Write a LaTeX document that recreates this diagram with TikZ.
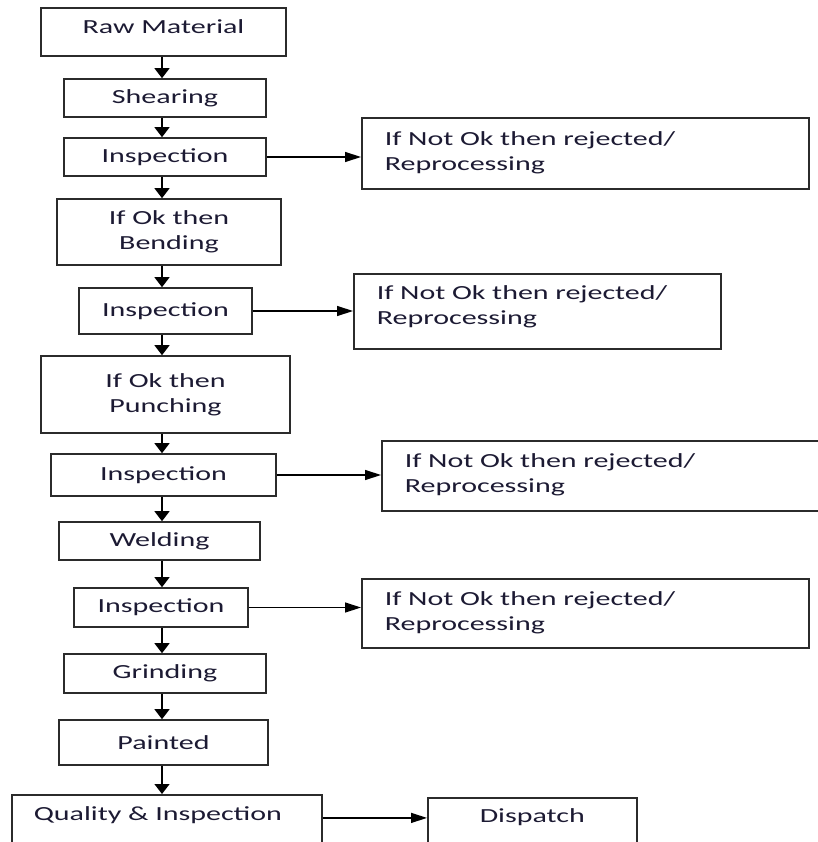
\documentclass[tikz,border=0pt]{standalone}
\usepackage{fontspec}
\setmainfont[FakeStretch=1.5]{Carlito}
\usepackage{xcolor}
\usepackage{tikz}
\usetikzlibrary{arrows.meta}
\definecolor{boxline}{HTML}{2B2B2B}
\definecolor{inktext}{HTML}{1C1A33}

\begin{document}
\begin{tikzpicture}[
  x=1pt, y=-1pt,
  every node/.style={font=\fontsize{20}{25}\selectfont, text=inktext},
  stage/.style={rectangle, draw=boxline, line width=1.6pt, align=center, inner sep=0pt},
  reject/.style={stage, anchor=north west, align=left, inner xsep=23pt, text width=#1},
  arrow/.style={-{Triangle[length=10pt, width=15pt]}, line width=1.3pt, color=black},
  sidearrow/.style={-{Triangle[length=16pt, width=10pt]}, line width=1.3pt, color=black}
]
\useasboundingbox (0,0) rectangle (817,842);

% === MAIN COLUMN (top to bottom) ===
\coordinate (spine) at (162,0);
\node[stage, minimum width=245pt, minimum height=48pt, text height=13pt, text depth=10pt] (raw) at (163.5,32) {Raw Material};
\node[stage, minimum width=202pt, minimum height=38pt] (shear) at (165,98) {Shearing};
\node[stage, minimum width=202pt, minimum height=38pt] (insp1) at (165,157) {Inspection};
\node[stage, minimum width=224pt, minimum height=66pt] (bend) at (169,232) {If Ok then\\Bending};
\node[stage, minimum width=173pt, minimum height=46pt] (insp2) at (165.5,311) {Inspection};
\node[stage, minimum width=249pt, minimum height=77pt] (punch) at (165.5,394.5) {If Ok then\\Punching};
\node[stage, minimum width=225pt, minimum height=42pt] (insp3) at (163.5,475) {Inspection};
\node[stage, minimum width=201pt, minimum height=38pt] (weld) at (159.5,541) {Welding};
\node[stage, minimum width=174pt, minimum height=39pt] (insp4) at (161,607.5) {Inspection};
\node[stage, minimum width=202pt, minimum height=39pt] (grind) at (165,673.5) {Grinding};
\node[stage, minimum width=209pt, minimum height=45pt] (paint) at (163.5,742.5) {Painted};
\node[stage, anchor=north west, align=left, text width=266pt, inner xsep=22pt, text height=25.5pt, text depth=30.5pt] (quality) at (11,794) {Quality \& Inspection};

% Arrows
\draw[arrow] (raw.south -| spine) -- (shear.north -| spine);
\draw[arrow] (shear.south -| spine) -- (insp1.north -| spine);
\draw[arrow] (insp1.south -| spine) -- (bend.north -| spine);
\draw[arrow] (bend.south -| spine) -- (insp2.north -| spine);
\draw[arrow] (insp2.south -| spine) -- (punch.north -| spine);
\draw[arrow] (punch.south -| spine) -- (insp3.north -| spine);
\draw[arrow] (insp3.south -| spine) -- (weld.north -| spine);
\draw[arrow] (weld.south -| spine) -- (insp4.north -| spine);
\draw[arrow] (insp4.south -| spine) -- (grind.north -| spine);
\draw[arrow] (grind.south -| spine) -- (paint.north -| spine);
\draw[arrow] (paint.south -| spine) -- (quality.north -| spine);

% === REJECT BRANCHES (right side) ===
\node[reject=401pt] (rej1) at (361,117) {\rule{0pt}{27.5pt}If Not Ok then rejected/\\Reprocessing\rule[-18.5pt]{0pt}{18.5pt}};
\node[reject=321pt] (rej2) at (353,273) {\rule{0pt}{25.5pt}If Not Ok then rejected/\\Reprocessing\rule[-24.5pt]{0pt}{24.5pt}};
\node[reject=393pt] (rej3) at (381,440) {\rule{0pt}{26.5pt}If Not Ok then rejected/\\Reprocessing\rule[-18.5pt]{0pt}{18.5pt}};
\node[reject=401pt] (rej4) at (361,578) {\rule{0pt}{26.5pt}If Not Ok then rejected/\\Reprocessing\rule[-17.5pt]{0pt}{17.5pt}};

\draw[sidearrow] (insp1.east) -- (insp1.east -| rej1.west);
\draw[sidearrow] (insp2.east) -- (insp2.east -| rej2.west);
\draw[sidearrow] (insp3.east) -- (insp3.east -| rej3.west);
\draw[sidearrow] (insp4.east) -- (insp4.east -| rej4.west);

% Dispatch at the end
\node[stage, anchor=north west, minimum width=209pt, text height=24.5pt, text depth=28.5pt] (dispatch) at (427,797) {Dispatch};
\draw[sidearrow] (quality.mid east) -- (quality.mid east -| dispatch.west);

\end{tikzpicture}
\end{document}
